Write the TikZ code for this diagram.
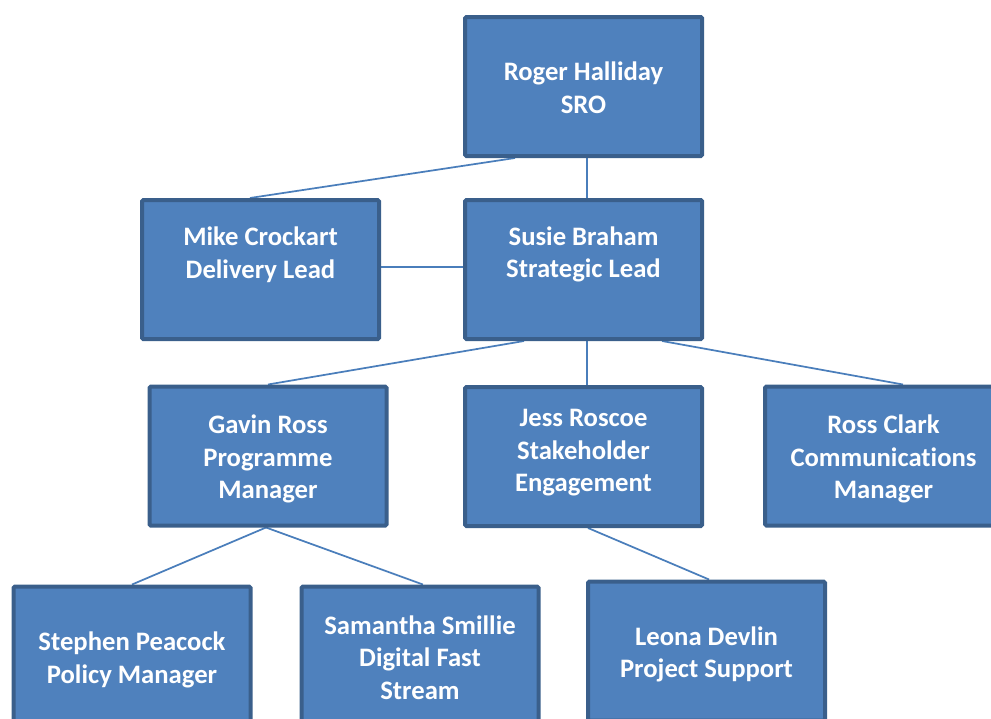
\documentclass[tikz,border=0pt]{standalone}
\usepackage{fontspec}
\setmainfont{Carlito}[Ligatures=NoCommon]
\usetikzlibrary{backgrounds}
\definecolor{boxfill}{HTML}{4F81BD}
\definecolor{boxline}{HTML}{3A5F8B}
\definecolor{conn}{HTML}{4A7EBB}
\begin{document}
\begin{tikzpicture}[x=0.75pt,y=-0.75pt,
  orgbox/.style={draw=boxline, fill=boxfill, line width=3pt, rounded corners=1pt,
    minimum width=177.75pt, minimum height=104.25pt, inner sep=0pt},
  orgtext/.style={text=white, align=center, inner sep=0pt,
    font=\fontsize{20}{24.4}\selectfont\bfseries},
  link/.style={draw=conn, line width=1.3pt}]
\useasboundingbox (0,0) rectangle (991,718);
\clip (0,0) rectangle (991,718);
\node[orgbox] (roger) at (583.5,86.5) {};
\node[orgbox] (mike) at (260.5,269.5) {};
\node[orgbox] (susie) at (583.5,269.5) {};
\node[orgbox] (gavin) at (268,456) {};
\node[orgbox] (jess) at (583.5,456.5) {};
\node[orgbox] (ross) at (883.5,456) {};
\node[orgbox] (stephen) at (132,656) {};
\node[orgbox] (samantha) at (420,656) {};
\node[orgbox] (leona) at (706.5,651) {};
\node[orgtext] (rogert) at ([yshift=-0.75pt]roger.center) {Roger Halliday\\SRO};
\node[orgtext] (miket) at ([yshift=11.2pt]mike.center) {Mike Crockart\\Delivery Lead};
\node[orgtext] (susiet) at ([yshift=11.2pt]susie.center) {Susie Braham\\Strategic Lead};
\node[orgtext] (gavint) at ([yshift=-2.25pt]gavin.center) {Gavin Ross\\Programme\\Manager};
\node[orgtext] (jesst) at ([yshift=2.6pt]jess.center) {Jess Roscoe\\Stakeholder\\Engagement};
\node[orgtext] (rosst) at ([yshift=-2.25pt]ross.center) {Ross Clark\\Communicat\kern0pt ions\\Manager};
\node[orgtext] (stephent) at ([yshift=-3pt]stephen.center) {Stephen Peacock\\Policy Manager};
\node[orgtext] (samanthat) at ([yshift=-1.1pt]samantha.center) {Samantha Smillie\\Digital Fast\\Stream};
\node[orgtext] (leonat) at ([yshift=-2.6pt]leona.center) {Leona Devlin\\Project Support};
\begin{scope}[on background layer]
\draw[link] ([xshift=-51.4pt]roger.south) -- ([xshift=-7.9pt]mike.north);
\draw[link] ([xshift=2.6pt]roger.south) -- ([xshift=2.6pt]susie.north);
\draw[link] ([yshift=1.9pt]mike.east) -- ([yshift=1.9pt]susie.west);
\draw[link] ([xshift=-44.6pt]susie.south) -- (gavin.north);
\draw[link] ([xshift=2.6pt]susie.south) -- ([xshift=2.6pt]jess.north);
\draw[link] ([xshift=58.9pt]susie.south) -- ([xshift=14.6pt]ross.north);
\draw[link] ([xshift=-1.5pt]gavin.south) -- (stephen.north);
\draw[link] ([xshift=-1.5pt]gavin.south) -- ([xshift=2.2pt]samantha.north);
\draw[link] ([xshift=3.4pt]jess.south) -- ([xshift=1.9pt]leona.north);
\end{scope}
\end{tikzpicture}
\end{document}
